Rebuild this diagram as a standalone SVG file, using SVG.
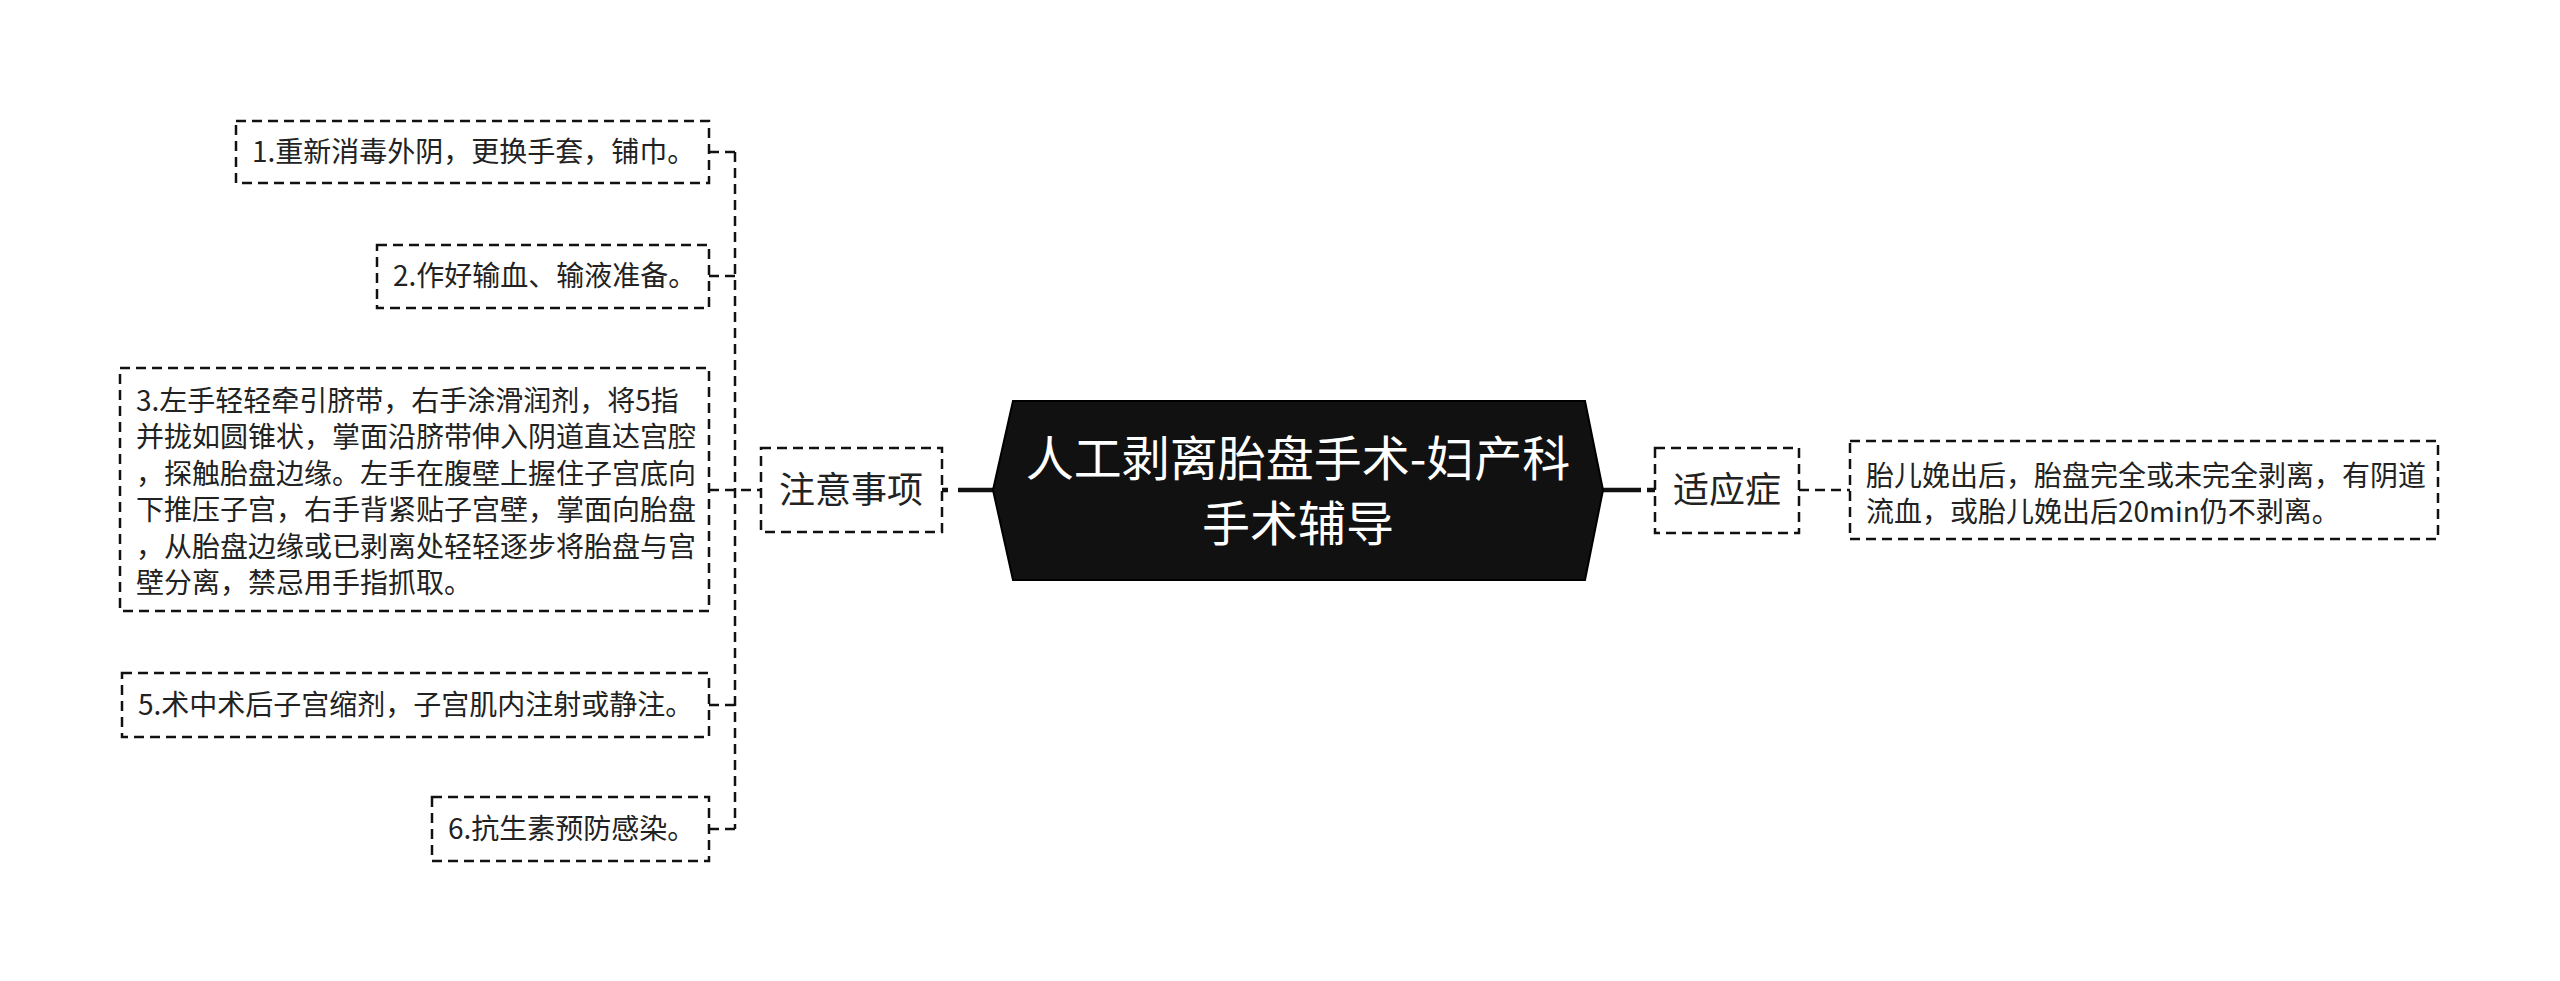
<svg xmlns="http://www.w3.org/2000/svg" width="2560" height="981" viewBox="0 0 2560 981">
<style>
.box{fill:#fff;stroke:#111;stroke-width:2.5;stroke-dasharray:10 6}
.t{font-family:"Noto Sans CJK SC","Noto Sans",sans-serif;font-size:28px;fill:#222}
.t36{font-family:"Noto Sans CJK SC","Noto Sans",sans-serif;font-size:36px;fill:#222;text-anchor:middle}
.tc{font-family:"Noto Sans CJK SC","Noto Sans",sans-serif;font-size:48px;fill:#fff;text-anchor:middle}
.dash{fill:none;stroke:#111;stroke-width:2.5;stroke-dasharray:10 6}
.solid{fill:none;stroke:#111;stroke-width:4.5}
</style>
<rect width="2560" height="981" fill="#fff"/>
<g id="connectors">
<path class="dash" d="M735 152 V829"/>
<path class="dash" d="M709 152 H735 M709 276 H735 M709 490 H761 M709 705 H735 M709 829 H735"/>
<path class="solid" d="M958 490 H993 M942 490 H948"/>
<path class="solid" d="M1603 490 H1641 M1647 490 H1655"/>
<path class="dash" d="M1799 490 H1850"/>
</g>
<g id="center">
<polygon points="993,490 1013,401 1585,401 1603,490 1585,580 1013,580" fill="#111" stroke="#000" stroke-width="2"/>
<text class="tc" x="1298" y="476">人工剥离胎盘手术-妇产科</text>
<text class="tc" x="1298" y="541">手术辅导</text>
</g>
<g id="node-zhuyi">
<rect class="box" x="761" y="448" width="181" height="84"/>
<text class="t36" x="851" y="503">注意事项</text>
</g>
<g id="node-1">
<rect class="box" x="236" y="121" width="473" height="62"/>
<text class="t" x="252" y="162">1.重新消毒外阴，更换手套，铺巾。</text>
</g>
<g id="node-2">
<rect class="box" x="377" y="245" width="332" height="63"/>
<text class="t" x="393" y="286">2.作好输血、输液准备。</text>
</g>
<g id="node-3">
<rect class="box" x="120" y="368" width="589" height="243"/>
<text class="t" x="136" y="411">3.左手轻轻牵引脐带，右手涂滑润剂，将5指</text>
<text class="t" x="136" y="447">并拢如圆锥状，掌面沿脐带伸入阴道直达宫腔</text>
<text class="t" x="136" y="484">，探触胎盘边缘。左手在腹壁上握住子宫底向</text>
<text class="t" x="136" y="520">下推压子宫，右手背紧贴子宫壁，掌面向胎盘</text>
<text class="t" x="136" y="557">，从胎盘边缘或已剥离处轻轻逐步将胎盘与宫</text>
<text class="t" x="136" y="593">壁分离，禁忌用手指抓取。</text>
</g>
<g id="node-5">
<rect class="box" x="122" y="673" width="587" height="64"/>
<text class="t" x="138" y="715">5.术中术后子宫缩剂，子宫肌内注射或静注。</text>
</g>
<g id="node-6">
<rect class="box" x="432" y="797" width="277" height="64"/>
<text class="t" x="448" y="839">6.抗生素预防感染。</text>
</g>
<g id="node-shiyingzheng">
<rect class="box" x="1655" y="448" width="144" height="85"/>
<text class="t36" x="1727" y="503">适应症</text>
</g>
<g id="node-detail">
<rect class="box" x="1850" y="441" width="588" height="98"/>
<text class="t" x="1866" y="486">胎儿娩出后，胎盘完全或未完全剥离，有阴道</text>
<text class="t" x="1866" y="522">流血，或胎儿娩出后20min仍不剥离。</text>
</g>
</svg>
